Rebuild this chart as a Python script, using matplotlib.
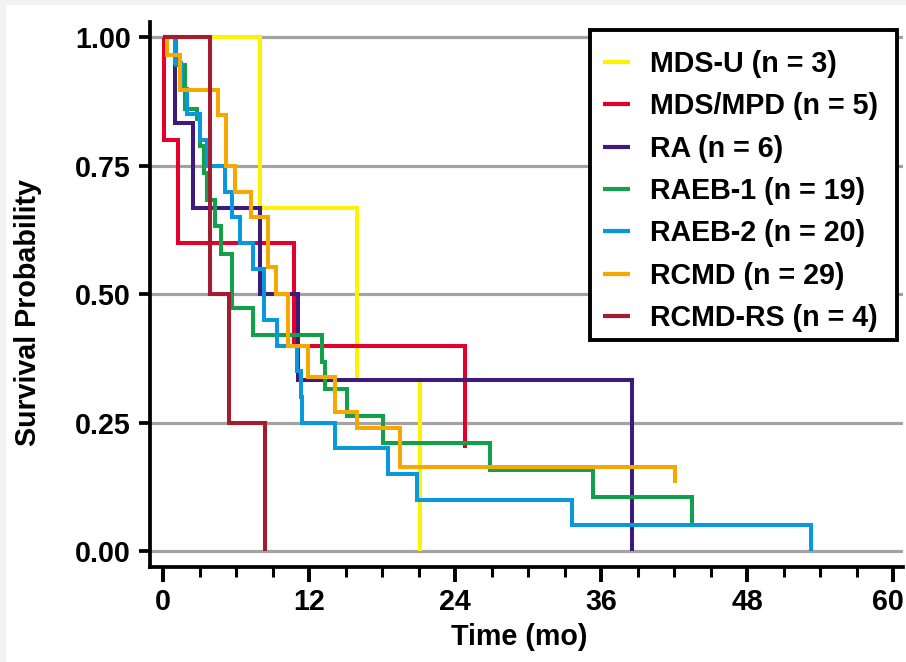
import matplotlib
matplotlib.use("Agg")
import matplotlib.pyplot as plt
from matplotlib.patches import Rectangle
from matplotlib.ticker import MultipleLocator
from matplotlib.transforms import ScaledTranslation

# Kaplan-Meier step data: time in months, survival probability after each event
labels = ["MDS-U (n = 3)", "MDS/MPD (n = 5)", "RA (n = 6)", "RAEB-1 (n = 19)",
          "RAEB-2 (n = 20)", "RCMD (n = 29)", "RCMD-RS (n = 4)"]
colors = ["#fff200", "#e4002b", "#3f1a7d", "#12a14a", "#0898db", "#f5a800", "#a51c30"]

mdsu_t = [0, 8.0, 15.9, 21.1]
mdsu_s = [1.0, 0.667, 0.333, 0.0]

mdsmpd_t = [0, 0.05, 1.2, 10.8, 24.8]
mdsmpd_s = [1.0, 0.8, 0.6, 0.4, 0.2]

ra_t = [0, 1.0, 2.5, 8.0, 11.1, 38.5]
ra_s = [1.0, 0.833, 0.667, 0.5, 0.333, 0.0]

raeb1_t = [0, 1.1, 1.8, 2.8, 3.0, 3.4, 3.6, 4.3, 4.8, 5.7, 7.4, 13.1, 13.3,
           15.1, 18.1, 26.9, 35.3, 43.5]
raeb1_s = [1.0, 0.947, 0.86, 0.842, 0.789, 0.737, 0.684, 0.632, 0.579, 0.474,
           0.421, 0.368, 0.316, 0.263, 0.211, 0.158, 0.105, 0.053]

raeb2_t = [0, 1.0, 1.5, 2.0, 3.0, 3.6, 5.1, 5.7, 6.3, 7.4, 8.3, 9.4, 11.0,
           11.3, 11.4, 14.1, 18.5, 20.9, 33.6, 53.2]
raeb2_s = [1.0, 0.95, 0.90, 0.85, 0.80, 0.75, 0.70, 0.65, 0.60, 0.55, 0.45,
           0.40, 0.35, 0.30, 0.25, 0.20, 0.15, 0.10, 0.05, 0.0]

rcmd_t = [0, 0.3, 1.4, 4.5, 5.2, 5.9, 7.2, 8.6, 9.3, 10.3, 11.9, 14.1, 15.9,
          19.5, 42.1]
rcmd_s = [1.0, 0.966, 0.897, 0.848, 0.75, 0.70, 0.65, 0.554, 0.50, 0.40,
          0.339, 0.27, 0.239, 0.164, 0.133]

rcmdrs_t = [0, 3.9, 5.4, 8.4]
rcmdrs_s = [1.0, 0.5, 0.25, 0.0]

series = [(mdsu_t, mdsu_s), (mdsmpd_t, mdsmpd_s), (ra_t, ra_s),
          (raeb1_t, raeb1_s), (raeb2_t, raeb2_s), (rcmd_t, rcmd_s),
          (rcmdrs_t, rcmdrs_s)]

x_ticks = [0, 12, 24, 36, 48, 60]
y_ticks = [0.0, 0.25, 0.50, 0.75, 1.00]
y_ticklabels = ["0.00", "0.25", "0.50", "0.75", "1.00"]

plt.rcParams["font.family"] = ["Liberation Sans", "DejaVu Sans"]
plt.rcParams["font.weight"] = "bold"
FS = 20.6

W, H = 906, 662
fig = plt.figure(figsize=(W / 100, H / 100), dpi=100, facecolor="#f3f3f3")
fig.add_artist(Rectangle((6 / W, 0), 1, 1 - 5 / H, transform=fig.transFigure,
                         facecolor="white", edgecolor="none", zorder=-1))

ax = fig.add_axes([150 / W, (H - 567) / H, (903 - 150) / W, (567 - 22) / H])
ax.set_facecolor("white")
ax.set_xlim(-1.07, 60.8)
ax.set_ylim(-0.031, 1.03)

for yv in y_ticks:
    ax.axhline(yv, color="#a3a3a3", lw=2.3, zorder=1)

for (t, s), c, lab in zip(series, colors, labels):
    ax.step(t, s, where="post", color=c, lw=2.9, label=lab, zorder=3,
            solid_capstyle="butt", solid_joinstyle="miter")

for side in ("top", "right"):
    ax.spines[side].set_visible(False)
for side in ("left", "bottom"):
    ax.spines[side].set_linewidth(2.7)
    ax.spines[side].set_color("black")

ax.set_xticks(x_ticks)
ax.xaxis.set_minor_locator(MultipleLocator(3))
ax.set_yticks(y_ticks)
ax.set_yticklabels(y_ticklabels)
ax.tick_params(axis="x", which="major", length=11, width=2.8, pad=4,
               labelsize=FS, direction="out")
ax.tick_params(axis="x", which="minor", length=7.5, width=2.2, direction="out")
ax.tick_params(axis="y", which="major", length=8, width=2.7, pad=6,
               labelsize=FS, direction="out")
for lbl in ax.get_xticklabels() + ax.get_yticklabels():
    lbl.set_fontweight("bold")

# keep the last x tick label ("60") inside the canvas
last_lbl = ax.xaxis.get_major_ticks()[-1].label1
last_lbl.set_transform(last_lbl.get_transform()
                       + ScaledTranslation(-5 / 100, 0, fig.dpi_scale_trans))

ax.set_xlabel("Time (mo)", fontsize=FS, fontweight="bold")
ax.set_ylabel("Survival Probability", fontsize=FS, fontweight="bold")
ax.xaxis.label.set_va("center")
ax.yaxis.label.set_va("center")
ax.xaxis.set_label_coords(0.49, (567 - 637) / 545)
ax.yaxis.set_label_coords((28 - 150) / 753, (567 - 313) / 545)

# Legend box drawn as a separate frame so the entries can be placed freely
ax.add_patch(Rectangle((590 / W, 1 - 340 / H), (897 - 590) / W, (340 - 30) / H,
                       transform=fig.transFigure, facecolor="white",
                       edgecolor="black", lw=2.8, zorder=4, clip_on=False))
leg = ax.legend(loc="upper left", bbox_to_anchor=(603 / W, 1 - 50 / H),
                bbox_transform=fig.transFigure, borderaxespad=0, borderpad=0,
                frameon=False, prop={"size": FS, "weight": "bold"},
                handlelength=0.94, handletextpad=0.7, labelspacing=0.5)
for line in leg.get_lines():
    line.set_linewidth(3.0)
leg.set_zorder(6)

fig.savefig("out.png", dpi=100, facecolor=fig.get_facecolor())
